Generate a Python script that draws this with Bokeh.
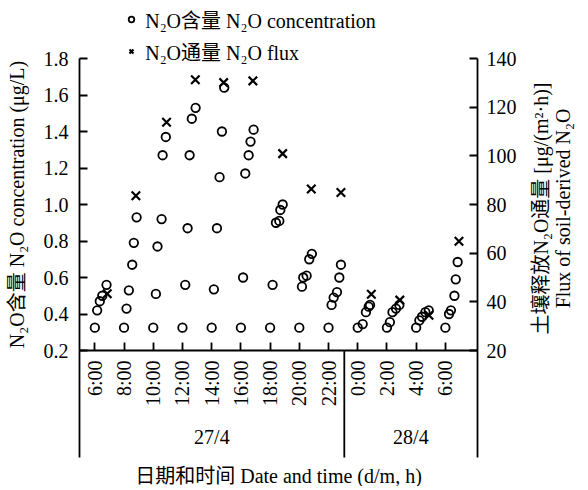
import math
from bokeh.plotting import figure
from bokeh.models import (Range1d, LinearAxis, FixedTicker, NumeralTickFormatter,
                          Legend, LegendItem, PolyAnnotation, Label)
from bokeh.core.properties import value
from bokeh.embed import file_html
from bokeh.resources import INLINE

FONT = "'Liberation Serif', 'Noto Sans CJK SC'"
FS = "20px"

# ---- data (hours counted from 27/4 0:00) ----
conc_time = [
    6.00, 6.16, 6.34, 6.51, 6.80,
    8.00, 8.17, 8.33, 8.56, 8.67, 8.86,
    10.00, 10.18, 10.29, 10.57, 10.64, 10.86,
    12.00, 12.19, 12.35, 12.49, 12.64, 12.90,
    14.00, 14.15, 14.36, 14.54, 14.70, 14.86,
    16.00, 16.15, 16.30, 16.53, 16.66, 16.87,
    18.00, 18.17, 18.40, 18.63, 18.70, 18.86,
    20.00, 20.18, 20.27, 20.50, 20.68, 20.86,
    22.00, 22.21, 22.35, 22.58, 22.74, 22.85,
    24.00, 24.34, 24.56, 24.75, 24.84,
    26.00, 26.20, 26.38, 26.62, 26.85,
    28.00, 28.22, 28.40, 28.63, 28.86,
    30.00, 30.25, 30.38, 30.62, 30.71, 30.84,
]
conc_value = [
    0.325, 0.42, 0.47, 0.50, 0.56,
    0.325, 0.43, 0.53, 0.67, 0.79, 0.93,
    0.325, 0.51, 0.77, 0.92, 1.27, 1.37,
    0.325, 0.56, 0.87, 1.27, 1.47, 1.53,
    0.325, 0.535, 0.87, 1.15, 1.40, 1.64,
    0.325, 0.60, 1.17, 1.27, 1.345, 1.41,
    0.325, 0.56, 0.90, 0.91, 0.97, 1.00,
    0.325, 0.55, 0.60, 0.61, 0.70, 0.73,
    0.325, 0.45, 0.49, 0.52, 0.60, 0.67,
    0.325, 0.345, 0.41, 0.44, 0.45,
    0.325, 0.355, 0.41, 0.43, 0.45,
    0.325, 0.365, 0.385, 0.41, 0.42,
    0.325, 0.40, 0.42, 0.50, 0.59, 0.685,
]
flux_time = [6.85, 8.81, 10.91, 12.88, 14.82, 16.82, 18.86, 20.82, 22.85,
             24.93, 26.88, 28.88, 30.93]
flux_value = [43.3, 83.6, 113.8, 131.3, 130.1, 130.8, 100.9, 86.4, 84.9,
              43.1, 40.7, 34.5, 64.9]

tick_hours = [6, 8, 10, 12, 14, 16, 18, 20, 22, 24, 26, 28, 30]
tick_labels = ["6:00", "8:00", "10:00", "12:00", "14:00", "16:00", "18:00",
               "20:00", "22:00", "0:00", "2:00", "4:00", "6:00"]
conc_ticks = [0.2, 0.4, 0.6, 0.8, 1.0, 1.2, 1.4, 1.6, 1.8]
flux_ticks = [20, 40, 60, 80, 100, 120, 140]
day_labels = ["27/4", "28/4"]
day_edges = [4.95, 23.08, 32.2]   # plot start, day divider, plot end

# ---- layout geometry (pixels inside the figure) ----
W, H = 578, 486
PLOT_L, PLOT_R = 79, 477     # left / right axis lines
Y_TOP, Y_BASE = 58, 350      # 1.8 tick / 0.2 line
TABLE_B = 457                # bottom of the date table lines

x_start, x_div, x_end = day_edges
c_lo, c_hi = conc_ticks[0], conc_ticks[-1]
f_lo, f_hi = flux_ticks[0], flux_ticks[-1]
x_ppu = (PLOT_R - PLOT_L) / (x_end - x_start)
c_ppu = (Y_BASE - Y_TOP) / (c_hi - c_lo)
f_ppu = (Y_BASE - Y_TOP) / (f_hi - f_lo)
y_table = c_lo - (TABLE_B - Y_BASE) / c_ppu

p = figure(frame_width=W, frame_height=H, min_border=0,
           x_range=Range1d(x_start - PLOT_L / x_ppu, x_end + (W - PLOT_R) / x_ppu),
           y_range=Range1d(c_lo - (H - Y_BASE) / c_ppu, c_hi + Y_TOP / c_ppu),
           output_backend="svg", toolbar_location=None)
p.extra_y_ranges = {"flux": Range1d(f_lo - (H - Y_BASE) / f_ppu,
                                    f_hi + Y_TOP / f_ppu)}
p.outline_line_color = None
p.grid.visible = False
p.background_fill_color = "white"
p.border_fill_color = "white"


def style_axis(ax):
    ax.axis_line_color = "black"
    ax.axis_line_width = 1.8
    ax.major_tick_line_color = "black"
    ax.major_tick_line_width = 1.8
    ax.major_tick_in = 8
    ax.major_tick_out = 0
    ax.minor_tick_line_color = None
    ax.major_label_text_font = FONT
    ax.major_label_text_font_size = FS
    ax.major_label_text_color = "black"
    ax.axis_label_text_font = FONT
    ax.axis_label_text_font_size = FS
    ax.axis_label_text_font_style = "normal"
    ax.axis_label_text_color = "black"


# x axis on the 0.2 line
xax = p.xaxis[0]
style_axis(xax)
xax.fixed_location = c_lo
xax.bounds = (x_start, x_end)
xax.ticker = FixedTicker(ticks=tick_hours)
xax.major_label_overrides = {h: lab for h, lab in zip(tick_hours, tick_labels)}
xax.major_label_orientation = math.pi / 2
xax.major_label_standoff = 10
xax.axis_label = "日期和时间 Date and time (d/m, h)"
xax.axis_label_standoff = 56

# left concentration axis
yax = p.yaxis[0]
style_axis(yax)
yax.fixed_location = x_start
yax.bounds = (c_lo, c_hi)
yax.ticker = FixedTicker(ticks=conc_ticks)
yax.formatter = NumeralTickFormatter(format="0.0")
yax.major_label_standoff = 11
yax.axis_label = "N₂O含量 N₂O concentration (μg/L)"
yax.axis_label_standoff = 13

# right flux axis
rax = LinearAxis(y_range_name="flux", ticker=FixedTicker(ticks=flux_ticks),
                 bounds=(f_lo, f_hi), fixed_location=x_end)
style_axis(rax)
rax.major_label_standoff = 9
p.add_layout(rax, "right")

# frame lines of the date table (y axes continued below the 0.2 line)
for side, xloc in (("left", x_start), ("right", x_end)):
    ext = LinearAxis(fixed_location=xloc, bounds=(y_table, c_lo),
                     ticker=FixedTicker(ticks=[]))
    style_axis(ext)
    ext.major_tick_in = 0
    p.add_layout(ext, side)

# ---- data marks ----
r_conc = p.scatter(conc_time, conc_value, marker="circle", size=8.5,
                   fill_color=None, line_color="black", line_width=1.8)
r_flux = p.scatter(flux_time, flux_value, marker="x", size=12,
                   line_color="black", line_width=2.2, y_range_name="flux")

# ---- date table ----
p.add_layout(PolyAnnotation(xs=[x_div, x_div], ys=[y_table, c_lo],
                            fill_alpha=0, line_color="black", line_alpha=1.0,
                            line_width=1.8))
for i, lab in enumerate(day_labels):
    p.add_layout(Label(x=(day_edges[i] + day_edges[i + 1]) / 2,
                       y=c_lo - 86 / c_ppu, text=lab,
                       text_align="center", text_baseline="middle",
                       text_font=FONT, text_font_size=FS, text_color="black"))

# ---- right axis title (two lines, reading upward) ----
for xs, txt in [(540, "土壤释放N₂O通量 [μg/(m²·h)]"),
                (562, "Flux of soil-derived N₂O")]:
    p.add_layout(Label(x=xs, y=H - 208, x_units="screen", y_units="screen",
                       angle=math.pi / 2, text=txt, text_align="center",
                       text_baseline="middle", text_font=FONT,
                       text_font_size=FS, text_color="black"))

# ---- legend ----
legend = Legend(items=[
    LegendItem(label=value("N₂O含量 N₂O concentration"), renderers=[r_conc]),
    LegendItem(label=value("N₂O通量 N₂O flux"), renderers=[r_flux]),
], location=(124.2, H - 65.5))
legend.glyph_width = 14
legend.glyph_height = 20
legend.label_height = 20
legend.spacing = 3
legend.padding = 0
legend.margin = 0
legend.label_standoff = 7
legend.label_text_font = FONT
legend.label_text_font_size = FS
legend.label_text_color = "black"
legend.border_line_color = None
legend.background_fill_alpha = 0
p.add_layout(legend)

open("out.html", "w").write(file_html(p, INLINE))
